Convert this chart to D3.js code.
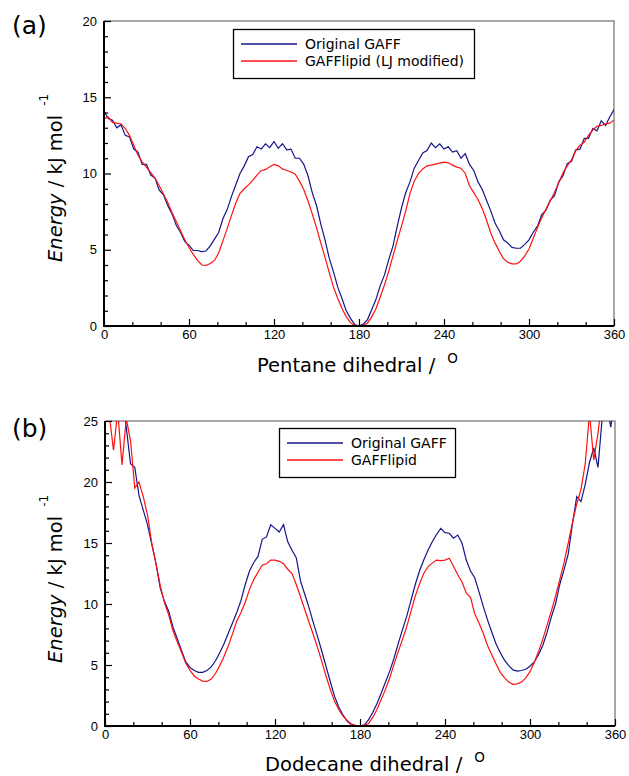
<!DOCTYPE html>
<html>
  <head>
    <meta charset="utf-8">
    <script src="https://d3js.org/d3.v7.min.js"></script>
    <title>Dihedral energy profiles</title>
    <style>
      body { margin: 0px; background: #fff; }
      svg { display: block; font-family: "DejaVu Sans", sans-serif; }
      .tick text { font-size: 13px; fill: #000; }
      .tick line { stroke: #000; stroke-width: 1.2; }
      .legend text { font-size: 14px; fill: #000; }
    </style>
  </head>
  <body>
    <svg width="629" height="776"></svg>
    <script>
      // dihedral angle samples (degrees), shared by both panels
      const angles = [
        0, 3, 6, 9, 12, 15, 18, 21, 24, 27,
        30, 33, 36, 39, 42, 45, 48, 51, 54, 57,
        60, 63, 66, 69, 72, 75, 78, 81, 84, 87,
        90, 93, 96, 99, 102, 105, 108, 111, 114, 117,
        120, 123, 126, 129, 132, 135, 138, 141, 144, 147,
        150, 153, 156, 159, 162, 165, 168, 171, 174, 177,
        180, 183, 186, 189, 192, 195, 198, 201, 204, 207,
        210, 213, 216, 219, 222, 225, 228, 231, 234, 237,
        240, 243, 246, 249, 252, 255, 258, 261, 264, 267,
        270, 273, 276, 279, 282, 285, 288, 291, 294, 297,
        300, 303, 306, 309, 312, 315, 318, 321, 324, 327,
        330, 333, 336, 339, 342, 345, 348, 351, 354, 357,
        360
      ];

      // (a) pentane, energies in kJ/mol
      const pentaneGaff = [
        14.1, 13.6, 13.5, 13.0, 13.2, 12.5, 12.4, 11.6, 11.4, 10.6,
        10.6, 9.9, 9.7, 8.9, 8.6, 7.9, 7.35, 6.6, 6.15, 5.55,
        5.3, 4.95, 4.95, 4.88, 4.92, 5.25, 5.7, 6.15, 7.05, 7.65,
        8.5, 9.25, 10.0, 10.5, 11.1, 11.25, 11.75, 11.6, 11.95, 11.7,
        12.1, 11.65, 11.95, 11.55, 11.6, 11.0, 11.0, 10.6, 9.85, 8.75,
        7.9, 6.7, 5.65, 4.45, 3.55, 2.55, 1.8, 1.0, 0.5, 0.1,
        0, 0.12, 0.42, 1.08, 1.75, 2.65, 3.35, 4.35, 5.25, 6.55,
        7.75, 8.75, 9.45, 10.35, 10.85, 11.35, 11.5, 12.0, 11.7, 11.95,
        11.6, 11.75, 11.4, 11.5, 11.0, 11.3, 10.6, 10.2, 9.45, 8.95,
        8.25, 7.55, 6.75, 6.25, 5.65, 5.45, 5.15, 5.1, 5.1, 5.35,
        5.65, 6.15, 6.55, 7.3, 7.6, 8.25, 8.55, 9.45, 9.85, 10.65,
        10.8, 11.55, 11.6, 12.3, 12.3, 12.95, 12.8, 13.45, 13.15, 13.7,
        14.2
      ];
      const pentaneLipid = [
        13.6, 13.7, 13.35, 13.3, 13.25, 12.95, 12.5, 11.85, 11.2, 10.75,
        10.4, 10.05, 9.7, 9.2, 8.65, 8.1, 7.45, 6.85, 6.25, 5.65,
        5.15, 4.7, 4.3, 4.0, 3.97, 4.1, 4.3, 4.8, 5.6, 6.4,
        7.25, 8.05, 8.7, 9.0, 9.25, 9.55, 9.9, 10.2, 10.25, 10.45,
        10.6, 10.5, 10.3, 10.2, 10.1, 9.95, 9.5, 8.95, 8.2, 7.35,
        6.45, 5.45, 4.5, 3.5, 2.55, 1.8, 1.15, 0.6, 0.22, 0.04,
        0, 0.03, 0.2, 0.6, 1.15, 1.9, 2.7, 3.6, 4.6, 5.6,
        6.55, 7.55, 8.7, 9.5, 10.0, 10.3, 10.5, 10.55, 10.62, 10.68,
        10.75, 10.7, 10.55, 10.42, 10.35, 10.0, 9.2, 8.75, 8.3, 7.7,
        6.95, 6.1, 5.45, 4.9, 4.42, 4.18, 4.08, 4.07, 4.25, 4.6,
        5.05, 5.75, 6.45, 7.1, 7.65, 8.2, 8.75, 9.4, 10.05, 10.5,
        10.9, 11.5, 11.85, 12.05, 12.5, 12.85, 13.1, 13.15, 13.25, 13.3,
        13.5
      ];

      // (b) dodecane, energies in kJ/mol (values above 25 are clipped)
      const dodecaneGaff = [
        29, 29, 28.5, 28, 27, 24.5, 21.5, 21.2, 18.9, 17.7,
        16.5, 14.9, 13.3, 11.3, 10.2, 9.4, 8.1, 7.15, 6.2, 5.25,
        4.8, 4.55, 4.4, 4.4, 4.55, 4.85, 5.35, 6.0, 6.75, 7.6,
        8.45, 9.3, 10.3, 11.6, 12.7, 13.4, 13.9, 15.3, 15.5, 16.5,
        16.2, 15.9, 16.5, 15.1, 14.4, 13.8, 11.9, 10.8, 9.7, 8.5,
        7.35, 6.15, 4.9, 3.65, 2.45, 1.55, 0.9, 0.38, 0.1, 0.02,
        0, 0.1, 0.5, 1.1, 1.85, 2.7, 3.6, 4.5, 5.55, 6.75,
        7.9, 9.0, 10.3, 11.6, 12.7, 13.6, 14.4, 15.1, 15.7, 16.2,
        15.85, 15.8, 15.4, 15.65, 15.0, 13.6, 12.7, 12.15, 11.0, 9.8,
        8.7, 7.7, 6.75, 6.0, 5.4, 4.95, 4.6, 4.5, 4.55, 4.65,
        4.9, 5.25, 5.85, 6.6, 7.65, 8.9, 10.0, 11.6, 12.8, 14.1,
        16.6, 18.8, 18.4, 19.8, 21.6, 22.8, 21.2, 25.3, 26.5, 24.5,
        27
      ];
      const dodecaneLipid = [
        27, 25.5, 22.6, 25.8, 21.4, 25.2, 23.4, 19.5, 20.0, 18.8,
        17.3, 15.0, 13.3, 11.5, 10.1, 9.1, 7.8, 6.9, 6.05, 5.15,
        4.55, 4.1, 3.85, 3.68, 3.65, 3.85, 4.3, 4.95, 5.7, 6.55,
        7.55, 8.6, 9.3, 10.15, 11.2, 12.0, 12.6, 13.2, 13.3, 13.6,
        13.6, 13.5, 13.3, 12.85, 12.5, 11.6, 10.6, 9.55, 8.5, 7.5,
        6.45, 5.3, 4.1, 3.0, 2.05, 1.35, 0.8, 0.45, 0.15, 0.03,
        0, 0.05, 0.2, 0.7, 1.35, 2.2, 3.0, 3.95, 5.05, 6.1,
        7.1, 8.15, 9.4, 10.65, 11.65, 12.5, 13.05, 13.35, 13.6, 13.55,
        13.6, 13.75, 13.1, 12.4, 11.8, 10.9, 10.55, 9.2, 8.45, 7.6,
        6.6, 5.85, 5.1, 4.4, 3.95, 3.6, 3.42, 3.45, 3.6, 3.95,
        4.45, 5.2, 6.1, 7.1, 8.25, 9.4, 10.65, 12.0, 13.4, 15.0,
        16.7, 18.2, 19.4, 21.5, 25.6, 21.8, 24.0, 27, 28, 29,
        30
      ];

      // tick values
      const xMajorTicks = [0, 60, 120, 180, 240, 300, 360];
      const xMinorTicks = [20, 40, 80, 100, 140, 160, 200, 220, 260, 280, 320, 340];
      const pentaneYTicks = [0, 5, 10, 15, 20];
      const dodecaneYTicks = [0, 5, 10, 15, 20, 25];

      const blue = '#15158a';
      const red = '#ff1010';
      const svg = d3.select('svg');

      function drawPanel(p) {
        const x = d3.scaleLinear().domain([0, 360]).range([p.left, p.right]);
        const y = d3.scaleLinear().domain([0, p.yMax]).range([p.bottom, p.top]);
        const g = svg.append('g');

        // clip the curves to the plot box
        g.append('clipPath').attr('id', p.id)
          .append('rect')
            .attr('x', p.left).attr('y', p.top)
            .attr('width', p.right - p.left).attr('height', p.bottom - p.top);

        // grey top / right frame
        g.append('path')
          .attr('d', `M${p.left},${p.top}H${p.right}V${p.bottom}`)
          .attr('fill', 'none').attr('stroke', '#8c8c8c').attr('stroke-width', 1.5);

        // curves
        const line = d3.line()
          .x((d, i) => x(angles[i]))
          .y(d => y(d));
        const curves = g.append('g').attr('clip-path', `url(#${p.id})`);
        curves.append('path').datum(p.gaff)
          .attr('d', line).attr('fill', 'none')
          .attr('stroke', blue).attr('stroke-width', 1.2);
        curves.append('path').datum(p.lipid)
          .attr('d', line).attr('fill', 'none')
          .attr('stroke', red).attr('stroke-width', 1.2);

        // x axis, ticks point inwards
        const xAxisG = g.append('g').attr('transform', `translate(0,${p.bottom})`);
        xAxisG.append('g').call(d3.axisBottom(x).tickValues(xMinorTicks).tickSize(-4).tickFormat(''))
          .call(a => a.select('.domain').remove());
        xAxisG.append('g').call(d3.axisBottom(x).tickValues(xMajorTicks).tickSize(-7).tickPadding(4))
          .call(a => a.select('.domain').remove());

        // y axis
        const yMinor = d3.range(0, p.yMax + 1).filter(v => v % 5 !== 0);
        const yAxisG = g.append('g').attr('transform', `translate(${p.left},0)`);
        yAxisG.append('g').call(d3.axisLeft(y).tickValues(yMinor).tickSize(-4).tickFormat(''))
          .call(a => a.select('.domain').remove());
        yAxisG.append('g').call(d3.axisLeft(y).tickValues(p.yTicks).tickSize(-7).tickPadding(7))
          .call(a => a.select('.domain').remove());

        // black left / bottom axis lines
        g.append('path')
          .attr('d', `M${p.left},${p.top}V${p.bottom}H${p.right}`)
          .attr('fill', 'none').attr('stroke', '#000').attr('stroke-width', 2);

        // legend
        const lg = g.append('g').attr('class', 'legend');
        lg.append('rect')
          .attr('x', p.legend.x + 0.5).attr('y', p.legend.y + 0.5)
          .attr('width', p.legend.w).attr('height', p.legend.h)
          .attr('fill', '#fff').attr('stroke', '#000').attr('stroke-width', 1.3);
        [[blue, p.labels[0]], [red, p.labels[1]]].forEach(([c, label], i) => {
          const ly = p.legend.y + 15 + i * 17;
          lg.append('line')
            .attr('x1', p.legend.x + 8).attr('x2', p.legend.x + 64)
            .attr('y1', ly).attr('y2', ly)
            .attr('stroke', c).attr('stroke-width', 1.3);
          lg.append('text')
            .attr('x', p.legend.x + 72).attr('y', ly + 5.3)
            .text(label);
        });

        // x axis title with superscript degree "O"
        const xt = g.append('text')
          .attr('x', p.xTitle.x).attr('y', p.xTitle.y)
          .style('font-size', '19.5px');
        xt.append('tspan').text(p.xTitle.text);
        xt.append('tspan').attr('dx', 12).attr('dy', -9)
          .style('font-size', '13.5px').text('O');

        // y axis title, rotated
        const yt = g.append('text')
          .attr('transform', `translate(${p.yTitle.x},${p.yTitle.y}) rotate(-90)`)
          .style('font-size', '19.5px');
        yt.append('tspan').style('font-style', 'italic').text('Energy');
        yt.append('tspan').text(' / kJ mol');
        yt.append('tspan').attr('dx', 9).attr('dy', -14)
          .style('font-size', '12px').text('-1');

        // panel letter
        g.append('text')
          .attr('x', 12).attr('y', p.letterY)
          .style('font-size', '25px')
          .text(p.letter);
      }

      drawPanel({
        id: 'clipA', left: 104, right: 614, top: 21, bottom: 326,
        yMax: 20, yTicks: pentaneYTicks,
        gaff: pentaneGaff, lipid: pentaneLipid,
        labels: ['Original GAFF', 'GAFFlipid (LJ modified)'],
        legend: { x: 233, y: 29, w: 241, h: 49 },
        xTitle: { x: 257, y: 372, text: 'Pentane dihedral /' },
        yTitle: { x: 62, y: 262 },
        letter: '(a)', letterY: 33.5
      });

      drawPanel({
        id: 'clipB', left: 105, right: 615, top: 421, bottom: 726,
        yMax: 25, yTicks: dodecaneYTicks,
        gaff: dodecaneGaff, lipid: dodecaneLipid,
        labels: ['Original GAFF', 'GAFFlipid'],
        legend: { x: 279, y: 428, w: 176, h: 49 },
        xTitle: { x: 265, y: 771, text: 'Dodecane dihedral /' },
        yTitle: { x: 61.5, y: 663 },
        letter: '(b)', letterY: 437
      });
    </script>
  </body>
</html>
